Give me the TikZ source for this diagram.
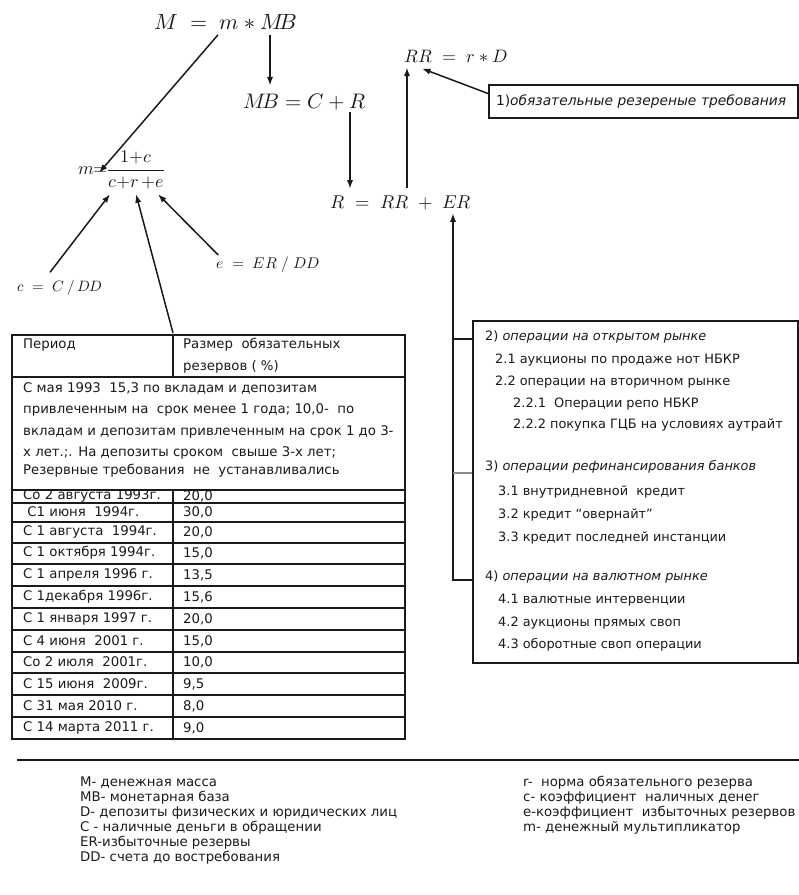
\documentclass[tikz,border=0pt]{standalone}
\usepackage{amsmath}
\usepackage{fontspec}
\usepackage{unicode-math}
\setmainfont{DejaVu Sans}
\usepackage{tikz}
\usetikzlibrary{arrows.meta,calc}
\definecolor{ink}{HTML}{1A1A1A}
\definecolor{tickgray}{HTML}{8C8C8C}
\tikzset{
  >={Latex[length=3mm,width=2.2mm]},
  flow/.style={->,line width=1.5pt,draw=ink},
  tabline/.style={draw=ink,line width=1.7pt},
  boxframe/.style={draw=ink,line width=2pt},
  formula/.style={inner sep=0pt,text=ink},
  cell/.style={anchor=west,inner sep=0pt,text=ink,font=\fontsize{13.3}{15}\selectfont},
  opitem/.style={cell,font=\fontsize{12.9}{15}\selectfont},
  note/.style={cell}
}

\begin{document}
\begin{tikzpicture}[x=1pt,y=-1pt]
  \useasboundingbox (0,0) rectangle (799,895);
  % Formulas
  \node[formula,font=\fontsize{22}{26}\selectfont] (eqM) at (226,22) {$M\;=\;m*M\!B$};
  \node[formula,font=\fontsize{21}{25}\selectfont] (eqMB) at (305,102) {$M\!B = C + R$};
  \node[formula,font=\fontsize{18}{22}\selectfont] (eqRR) at (456,57) {$RR\;=\;r*D$};
  \node[formula,font=\fontsize{18.5}{22}\selectfont] (eqR) at (401,203) {$R\;=\;RR\;+\;ER$};
  \node[formula,font=\fontsize{18}{22}\selectfont] (mlhs) at (93,171) {$m{=}$};
  \node[formula,font=\fontsize{18}{22}\selectfont] (mfrac) at (136,170) {$\dfrac{1{+}c}{c{+}r\,{+}e}$};
  \node[formula,font=\fontsize{15}{19}\selectfont] (eqc) at (60,288) {$c\;=\;C\,/\,DD$};
  \node[formula,font=\fontsize{15.5}{19}\selectfont] (eqe) at (268,265) {$e\;=\;ER\;/\;DD$};

  % Required reserves box
  \node[boxframe,anchor=north west,minimum width=309pt,minimum height=33pt,text width=295pt,
        inner xsep=7pt,align=left,text=ink,font=\fontsize{13.8}{15}\selectfont] (req) at (488,84)
        {1)\textit{обязательные резереные требования}};

  % Operations box
  \node[boxframe,anchor=north west,minimum width=325pt,minimum height=342pt] (ops) at (472,320) {};
  \foreach \x/\y/\t [count=\i] in {
      485/337/{2) \textit{операции на открытом рынке}},
      495/360/{2.1 аукционы по продаже нот НБКР},
      495/382/{2.2 операции на  вторичном рынке},
      513/404/{2.2.1 \ Операции репо НБКР},
      513/425/{2.2.2 покупка ГЦБ на условиях аутрайт},
      485/467/{3) \textit{операции рефинансирования банков}},
      498/492/{3.1 внутридневной \ кредит},
      498/515/{3.2 кредит “овернайт”},
      498/538/{3.3 кредит последней инстанции},
      485/577/{4) \textit{операции на валютном рынке}},
      498/600/{4.1 валютные интервенции},
      498/623/{4.2 аукционы прямых своп},
      498/645/{4.3 оборотные своп операции}}
    \node[opitem] (op\i) at (\x,\y) {\t};

  % Bracket to ER
  \coordinate (br2) at (453,339);
  \coordinate (br3) at (453,473);
  \coordinate (br4) at (453,580);
  \draw[flow] (br4 -| ops.west) -- (br4) -- ([xshift=52pt,yshift=-3pt]eqR.south);
  \draw[tabline,line width=1.5pt] (br2) -- (br2 -| ops.west);
  \draw[tabline,line width=2pt,draw=tickgray] (br3) -- (br3 -| ops.west);

  % Table
  \draw[tabline,line width=2pt] (12,335) rectangle (405,739);
  \foreach \y in {377,490,503,522,543,564,586,608,630,652,673,695,717}
    \draw[tabline] (12,\y) -- (405,\y);
  \draw[tabline] (173,335) -- (173,377);
  \draw[tabline] (173,490) -- (173,739);
  \coordinate (tabTop) at (173,333);
  \node[cell] (hdPer) at (23,345) {Период};
  \node[cell] (hdSz1) at (183,345) {Размер \ обязательных};
  \node[cell] (hdSz2) at (183,367) {резервов ( \%)};
  \foreach \y/\t [count=\i] in {
      388/{С мая 1993 \ 15,3 по вкладам и депозитам},
      410/{привлеченным на \ срок менее 1 года; 10,0- \ по},
      432/{вкладам и депозитам привлеченным на срок 1 до 3-},
      453/{х лет.;. На депозиты сроком \ свыше 3-х лет;},
      471/{Резервные требования \ не \ устанавливались}}
    \node[cell] (mrg\i) at (23,\y) {\t};
  \foreach \y/\p/\v [count=\i] in {
      496/{Со 2 августа 1993г.}/{20,0},
      512/{\ С1 июня \ 1994г.}/{30,0},
      532/{С 1 августа \ 1994г.}/{20,0},
      553/{С 1 октября 1994г.}/{15,0},
      575/{С 1 апреля 1996 г.}/{13,5},
      597/{С 1декабря 1996г.}/{15,6},
      619/{С 1 января 1997 г.}/{20,0},
      641/{С 4 июня \ 2001 г.}/{15,0},
      662/{Со 2 июля \ 2001г.}/{10,0},
      684/{С 15 июня \ 2009г.}/{9,5},
      706/{С 31 мая 2010 г.}/{8,0},
      728/{С 14 марта 2011 г.}/{9,0}}
  {
    \node[cell] (per\i) at (23,\y) {\p};
    \node[cell] (val\i) at (183,\y) {\v};
  }

  % Arrows between formulas
  \draw[flow] ([xshift=-8pt,yshift=-5pt]eqM.south) -- ([xshift=-9pt,yshift=-6pt]mlhs.north east);
  \draw[flow] ([xshift=44pt,yshift=-5pt]eqM.south) -- ([xshift=-35pt,yshift=8pt]eqMB.north);
  \draw[flow] ([xshift=45pt,yshift=-2pt]eqMB.south) -- ([xshift=-51pt,yshift=7pt]eqR.north);
  \draw[flow] ([xshift=6pt,yshift=8pt]eqR.north) -- ([xshift=-49pt,yshift=-4pt]eqRR.south);
  \draw[flow] ([yshift=8pt]req.west) -- ([xshift=-34pt,yshift=-5pt]eqRR.south);
  \draw[flow] ([xshift=-10pt,yshift=8pt]eqc.north) -- ([xshift=-26pt,yshift=-5pt]mfrac.south);
  \draw[flow] (tabTop) -- ([yshift=-5pt]mfrac.south);
  \draw[flow] ([xshift=2pt,yshift=2pt]eqe.north west) -- ([xshift=22pt,yshift=-5pt]mfrac.south);

  % Legend
  \draw[tabline,line width=2pt] (17,760) -- (799,760);
  \foreach \y/\t [count=\i] in {
      783/{M- денежная масса},
      798/{MB- монетарная база},
      813/{D- депозиты физических и юридических лиц},
      828/{C - наличные деньги в обращении},
      843/{ER-избыточные резервы},
      858/{DD- счета до востребования}}
    \node[note] (lgL\i) at (80,\y) {\t};
  \foreach \y/\t [count=\i] in {
      783/{r- \ норма обязательного резерва},
      798/{c- коэффициент \ наличных денег},
      813/{e-коэффициент \ избыточных резервов},
      828/{m- денежный мультипликатор}}
    \node[note] (lgR\i) at (523,\y) {\t};
\end{tikzpicture}
\end{document}
